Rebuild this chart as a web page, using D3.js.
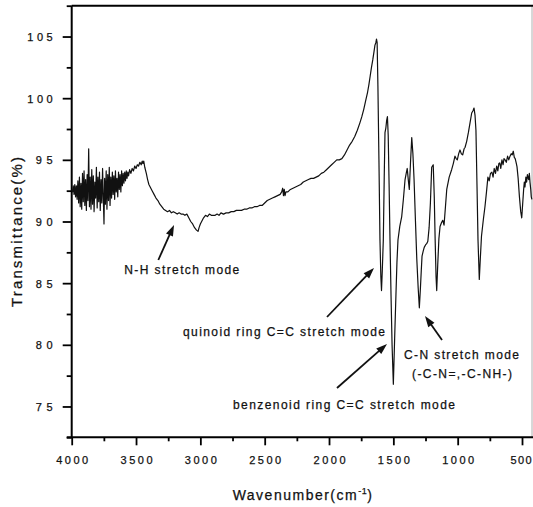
<!DOCTYPE html>
<html><head><meta charset="utf-8">
<script src="https://cdn.jsdelivr.net/npm/d3@7"></script>
<style>
body{margin:0;background:#fff}
text{font-family:"Liberation Sans",Arial,sans-serif;fill:#111;stroke:#111;stroke-width:0.25px}
</style>
</head><body>
<svg id="chart" width="533" height="507"></svg>
<script>
// ---------- data ----------
const wavenumber = [
4000,3994,3988,3982,3976,3970,3964,3958,3952,3946,3940,3934,3928,3922,3916,3910,3904,3898,3892,3886,
3880,3874,3868,3862,3856,3850,3844,3838,3832,3826,3820,3814,3808,3802,3796,3790,3784,3778,3772,3766,
3760,3754,3749,3744,3738,3732,3726,3720,3714,3708,3702,3696,3690,3684,3678,3672,3666,3660,3654,3648,
3642,3636,3630,3624,3618,3612,3606,3600,3594,3588,3582,3576,3570,3564,3558,3550,3540,3530,3520,3510,
3500,3490,3480,3470,3460,3452,3446,3440,3432,3420,3410,3400,3390,3375,3360,3345,3330,3315,3300,3285,
3270,3255,3240,3225,3210,3195,3180,3165,3150,3135,3120,3105,3090,3075,3060,3045,3030,3018,3010,3000,
2990,2975,2960,2945,2930,2915,2900,2885,2870,2855,2840,2820,2800,2780,2760,2740,2720,2700,2680,2660,
2640,2620,2600,2580,2560,2540,2520,2500,2480,2460,2440,2420,2400,2380,2368,2360,2354,2348,2342,2335,
2320,2300,2280,2260,2240,2220,2200,2180,2160,2140,2120,2100,2080,2060,2040,2020,2000,1980,1960,1940,
1920,1900,1880,1860,1840,1820,1800,1780,1760,1745,1730,1715,1700,1690,1680,1670,1660,1650,1643,1636,
1631,1626,1620,1612,1604,1597,1592,1586,1578,1571,1565,1558,1552,1546,1540,1533,1526,1518,1510,1500,
1490,1480,1472,1464,1450,1435,1422,1409,1400,1392,1384,1376,1367,1357,1348,1339,1328,1318,1307,1298,
1290,1283,1277,1268,1260,1250,1241,1232,1222,1212,1202,1190,1182,1175,1168,1163,1155,1146,1137,1126,
1116,1106,1095,1085,1066,1047,1034,1021,1012,1003,992,982,972,961,950,943,930,917,904,891,
880,873,865,858,850,842,832,824,815,800,788,776,765,755,745,734,725,716,706,697,
688,680,673,665,656,647,640,632,622,612,603,593,584,576,568,560,553,546,539,530,
520,510,502,495,488,482,477,470,464,458,454,448,443,438,432,428,423
];
const transmittance = [
92.6,92.4,92.9,92.2,93.0,92.0,92.9,91.8,93.3,91.5,93.6,91.2,93.1,91.0,93.9,91.6,94.1,91.3,93.4,90.9,
93.8,91.7,95.9,91.2,93.6,91.0,94.2,91.4,93.7,90.8,93.2,91.9,94.4,91.1,93.6,91.6,94.0,90.9,93.4,91.5,
94.3,91.8,89.8,93.5,91.4,94.1,91.0,93.8,91.7,94.4,91.3,93.6,91.9,94.0,92.2,93.7,91.8,94.1,92.4,93.5,
92.0,94.0,92.6,93.8,92.4,94.1,92.9,93.9,93.1,94.0,93.3,94.1,93.5,94.0,93.7,94.2,93.9,94.3,94.1,94.5,
94.3,94.6,94.5,94.8,94.6,94.9,94.7,94.9,94.4,93.9,93.4,93.0,92.8,92.5,92.2,91.9,91.7,91.4,91.2,91.0,
90.9,90.8,90.9,90.7,90.8,90.7,90.6,90.7,90.6,90.6,90.5,90.6,90.3,90.0,89.8,89.5,89.3,89.2,89.5,89.8,
90.0,90.3,90.5,90.4,90.6,90.5,90.5,90.5,90.6,90.5,90.7,90.6,90.7,90.7,90.8,90.8,90.9,90.9,90.9,91.0,
91.0,91.1,91.1,91.2,91.2,91.3,91.3,91.5,91.7,91.8,91.9,92.0,92.1,92.2,92.4,92.7,92.1,92.6,92.1,92.4,
92.4,92.6,92.7,92.8,92.9,93.0,93.2,93.3,93.4,93.5,93.5,93.6,93.7,93.9,94.0,94.2,94.4,94.6,94.8,95.0,
95.0,95.1,95.4,95.8,96.2,96.5,96.9,97.4,98.0,98.5,99.1,99.8,100.5,101.1,101.8,102.5,103.1,103.8,104.3,104.5,
104.8,104.5,101.0,95.0,88.5,85.5,84.4,86.0,88.5,93.5,97.2,97.6,98.2,98.5,97.0,93.0,88.5,84.0,80.0,76.8,
80.5,84.0,86.7,88.5,89.6,90.4,91.8,93.4,93.9,94.3,93.4,92.6,94.7,96.8,95.5,93.4,90.0,87.0,84.6,83.0,
84.5,86.0,87.2,87.6,87.9,88.1,88.2,88.4,89.5,91.5,94.4,94.6,92.0,88.5,85.5,84.4,86.5,88.6,89.6,89.9,
90.1,89.7,91.2,92.6,93.6,94.2,94.7,95.3,95.1,95.0,95.5,95.8,95.5,95.4,95.9,96.0,96.5,97.2,98.0,98.8,
99.0,99.2,98.6,97.4,93.0,88.5,85.3,87.0,88.8,90.2,91.2,92.4,93.6,93.3,93.9,94.0,93.6,94.3,93.9,94.5,
94.1,94.7,94.75,94.3,95.0,94.6,95.1,95.0,94.8,95.3,95.0,95.3,95.5,95.4,95.7,95.2,95.1,94.8,94.45,93.5,
92.0,90.8,90.3,91.4,92.5,93.2,92.8,93.6,93.2,93.8,93.6,93.4,93.9,93.2,92.6,92.0,91.8
];
const xMajorTicks = [4000,3500,3000,2500,2000,1500,1000,500];
const xMinorTicks = [3750,3250,2750,2250,1750,1250,750];
const yMajorTicks = [75,80,85,90,95,100,105];
const yMinorTicks = [72.5,77.5,82.5,87.5,92.5,97.5,102.5,107.5];
const xTitle = "Wavenumber(cm";
const yTitle = "Transmittance(%)";
const annotationTexts = ["N-H stretch mode","quinoid ring C=C stretch mode","benzenoid ring C=C stretch mode","C-N stretch mode","(-C-N=,-C-NH-)"];

// ---------- layout ----------
const svg = d3.select("#chart");
const x = d3.scaleLinear().domain([4000, 420]).range([71.7, 532.3]);
const y = d3.scaleLinear().domain([72.5, 107.5]).range([437.3, 5.7]);

// right frame (faint) and top frame
svg.append("line").attr("x1", 532).attr("x2", 532).attr("y1", y(107.5)).attr("y2", y(72.5))
  .attr("stroke", "#b0b0b0").attr("stroke-width", 1);
svg.append("line").attr("x1", x(4000)).attr("x2", 533).attr("y1", y(107.5)).attr("y2", y(107.5))
  .attr("stroke", "#000").attr("stroke-width", 2);

// axes
const gxMinor = svg.append("g").attr("transform", `translate(0,${y(72.5)})`)
  .call(d3.axisBottom(x).tickValues(xMinorTicks).tickSize(4).tickSizeOuter(0).tickFormat(""));
const gx = svg.append("g").attr("transform", `translate(0,${y(72.5)})`)
  .call(d3.axisBottom(x).tickValues(xMajorTicks).tickSize(8).tickSizeOuter(0).tickPadding(11).tickFormat(d3.format("d")));
const gyMinor = svg.append("g").attr("transform", `translate(${x(4000)},0)`)
  .call(d3.axisLeft(y).tickValues(yMinorTicks).tickSize(5).tickSizeOuter(0).tickFormat(""));
const gy = svg.append("g").attr("transform", `translate(${x(4000)},0)`)
  .call(d3.axisLeft(y).tickValues(yMajorTicks).tickSize(9).tickSizeOuter(0).tickPadding(10).tickFormat(d3.format("d")));

svg.selectAll(".domain").attr("stroke", "#000").attr("stroke-width", 2);
svg.selectAll(".tick line").attr("stroke", "#000").attr("stroke-width", 1.8);
gx.selectAll(".domain").attr("d", `M${x(4000)-5},0H533`);
gy.selectAll(".domain").attr("d", `M0,${y(107.5)}V${y(72.5)+1}`);
gxMinor.select(".domain").remove();
gyMinor.select(".domain").remove();

gx.selectAll(".tick text").attr("font-size", 11).attr("fill", "#111")
  .attr("font-family", '"Liberation Sans",Arial,sans-serif')
  .attr("dx", d => d === 500 ? -1.5 : 0)
  .attr("textLength", d => String(d).length === 4 ? 32 : 21).attr("lengthAdjust", "spacing");
gy.selectAll(".tick text").attr("font-size", 11).attr("fill", "#111")
  .attr("font-family", '"Liberation Sans",Arial,sans-serif')
  .attr("dy", "0.35em")
  .attr("textLength", d => String(d).length * 8.5).attr("lengthAdjust", "spacing");

// spectrum
const pts = wavenumber.map((w, i) => [w, transmittance[i]]);
svg.append("path").datum(pts)
  .attr("fill", "none").attr("stroke", "#111").attr("stroke-width", 1.2)
  .attr("stroke-linejoin", "round")
  .attr("d", d3.line().x(d => x(d[0])).y(d => y(d[1])));

// titles
svg.append("text").attr("transform", "translate(21.5,232) rotate(-90)")
  .attr("text-anchor", "middle").attr("font-size", 15)
  .attr("textLength", 150).attr("lengthAdjust", "spacing").text(yTitle);
const xt = svg.append("text").attr("x", 303).attr("y", 500).attr("text-anchor", "middle")
  .attr("font-size", 14).attr("letter-spacing", 1.5);
xt.append("tspan").text(xTitle);
xt.append("tspan").attr("font-size", 9).attr("dy", -6).attr("letter-spacing", 0.5).text("-1");
xt.append("tspan").attr("font-size", 14).attr("dy", 6).text(")");

// annotations
const textPos = [[124.3,274,115],[183,336,202],[233,409,222],[404,359,115],[412,378,100]];
annotationTexts.forEach((t, i) => {
  svg.append("text").attr("x", textPos[i][0]).attr("y", textPos[i][1])
    .attr("font-size", 12).attr("textLength", textPos[i][2]).attr("lengthAdjust", "spacing").text(t);
});
const arrows = [[158.3,260,174,225],[327,317,374,268],[337,388,387,344],[442,340,425,316]];
arrows.forEach(([x1,y1,x2,y2]) => {
  const dx = x2-x1, dy = y2-y1, L = Math.hypot(dx,dy), ux = dx/L, uy = dy/L;
  const hl = 11, hw = 3.8;
  const bx = x2-ux*hl, by = y2-uy*hl;
  svg.append("line").attr("x1", x1).attr("y1", y1).attr("x2", bx+ux*2).attr("y2", by+uy*2)
    .attr("stroke", "#111").attr("stroke-width", 1.8);
  svg.append("path").attr("fill", "#111")
    .attr("d", `M${x2},${y2}L${bx-uy*hw},${by+ux*hw}L${bx+uy*hw},${by-ux*hw}Z`);
});
</script>
</body></html>
